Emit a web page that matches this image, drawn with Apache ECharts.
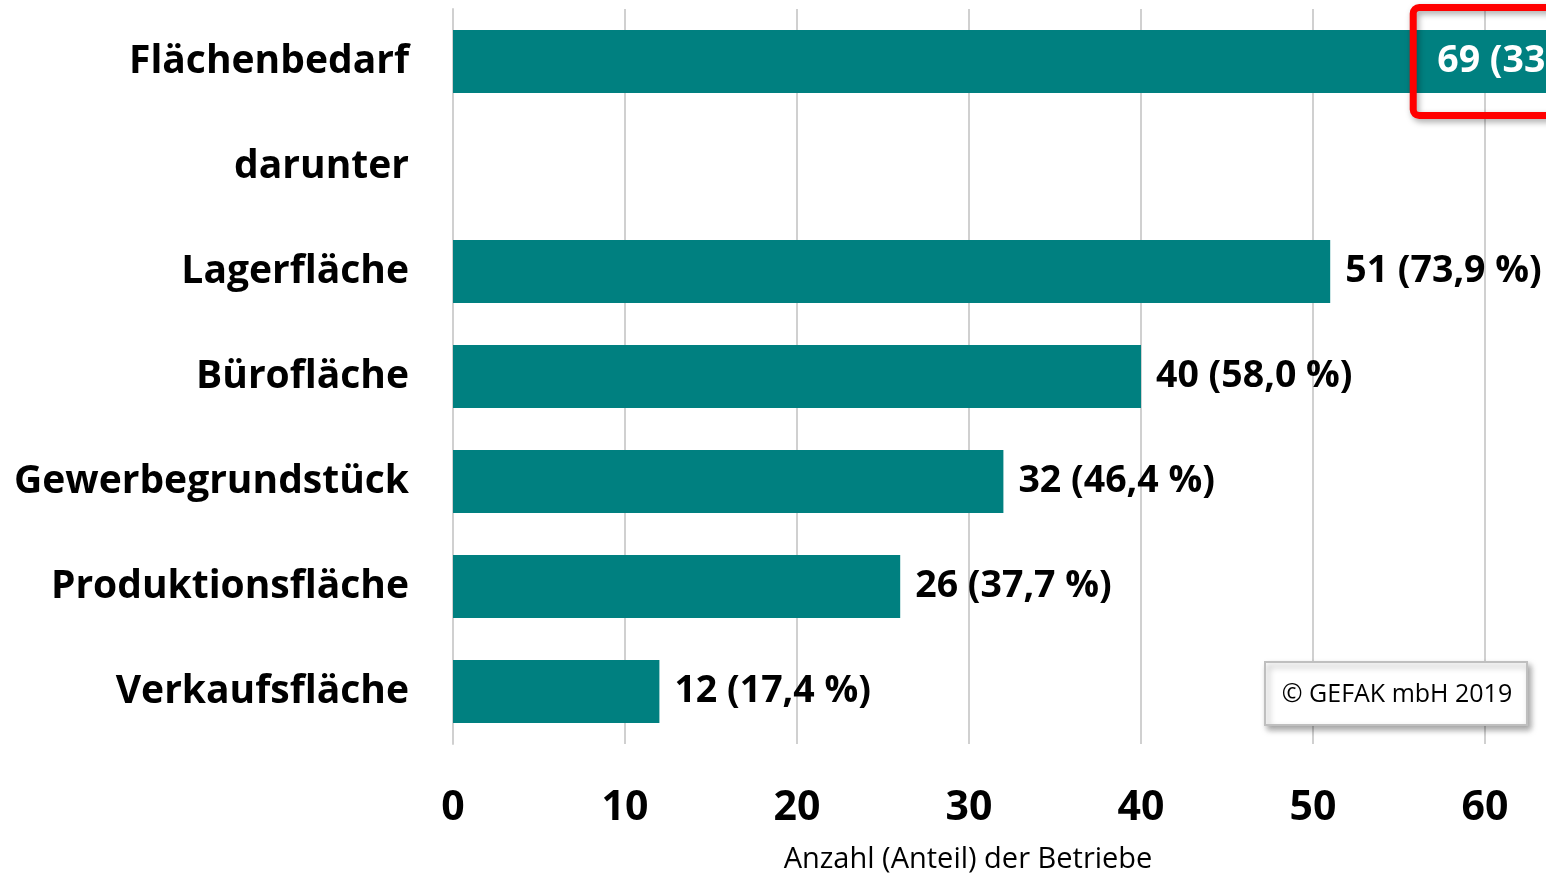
<!DOCTYPE html>
<html><head><meta charset="utf-8">
<script src="https://cdn.jsdelivr.net/npm/echarts@6/dist/echarts.min.js"></script>
<style>html,body{margin:0;padding:0;background:#fff;overflow:hidden;width:1546px;height:876px}#c{width:1657px;height:876px}</style>
</head><body><div id="c"></div>
<script>
const categories = ['Flächenbedarf','darunter','Lagerfläche','Bürofläche','Gewerbegrundstück','Produktionsfläche','Verkaufsfläche'];
const values = [69, null, 51, 40, 32, 26, 12];
const valueLabels = ['69 (33,0 %)', '', '51 (73,9 %)', '40 (58,0 %)', '32 (46,4 %)', '26 (37,7 %)', '12 (17,4 %)'];
const xTicks = [0, 10, 20, 30, 40, 50, 60];
const axisTitle = 'Anzahl (Anteil) der Betriebe';
const copyright = '© GEFAK mbH 2019';

const FONT = '"Open Sans", Lato, sans-serif';
const chart = echarts.init(document.getElementById('c'));
const data = values.map((v, i) => {
  if (v === null) return '-';
  if (i === 0) {
    return {value: v, label: {position: 'insideRight', distance: 2, color: '#fff', borderColor: '#ff0000', borderWidth: 7, borderRadius: 6,
      padding: [36, 4, 34, 24], shadowColor: 'rgba(0,0,0,0.35)', shadowBlur: 6, shadowOffsetX: 2, shadowOffsetY: 3}};
  }
  return v;
});
chart.setOption({
  animation: false,
  grid: {left: 453, right: 0, top: 9, bottom: 132, containLabel: false},
  xAxis: {
    type: 'value', min: 0, max: 70, interval: 10,
    axisLine: {show: false}, axisTick: {show: false},
    splitLine: {show: true, lineStyle: {color: '#d0d0d0', width: 2}},
    axisLabel: {fontFamily: FONT, fontWeight: 'bold', fontSize: 41, color: '#000', margin: 44, showMaxLabel: false,
      formatter: v => xTicks.includes(v) ? String(v) : ''}
  },
  yAxis: {
    type: 'category', data: categories, inverse: true,
    axisLine: {show: true, lineStyle: {color: '#d0d0d0', width: 2}}, axisTick: {show: false},
    axisLabel: {fontFamily: FONT, fontWeight: 'bold', fontSize: 39, color: '#000', margin: 44}
  },
  series: [{
    type: 'bar', data: data, barWidth: 63, itemStyle: {color: '#008080'},
    label: {show: true, position: 'right', distance: 15, fontFamily: FONT, fontWeight: 'bold', fontSize: 37.5, color: '#000',
      formatter: p => valueLabels[p.dataIndex]}
  }],
  graphic: [
    {type: 'text', x: 968, y: 860, style: {text: axisTitle, font: '29px ' + FONT, fill: '#000', align: 'center', verticalAlign: 'middle'}},
    {type: 'rect', shape: {x: 1265, y: 662, width: 262, height: 63}, style: {fill: '#fff', stroke: '#bfbfbf', lineWidth: 2,
      shadowColor: 'rgba(0,0,0,0.35)', shadowBlur: 6, shadowOffsetX: 3, shadowOffsetY: 4}, z: 10},
    {type: 'text', x: 1397, y: 695, style: {text: copyright, font: '25px ' + FONT, fill: '#000', align: 'center', verticalAlign: 'middle'}, z: 11}
  ]
});
</script></body></html>
